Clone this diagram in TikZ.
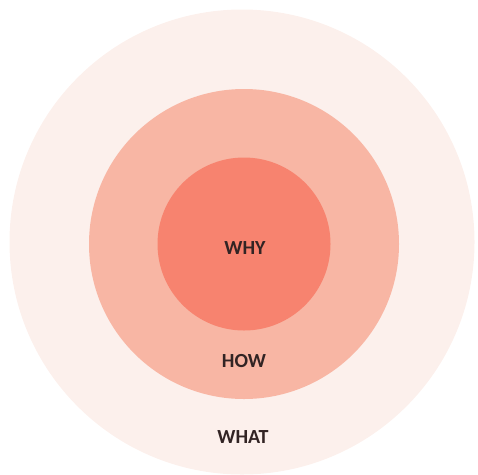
\documentclass[tikz,border=0pt]{standalone}
\usepackage{fontspec}
\setmainfont{Carlito}
\usepackage{xcolor}
\usepackage{tikz}
\usetikzlibrary{positioning}
\definecolor{whatpink}{RGB}{252,240,236}
\definecolor{howpink}{RGB}{248,182,164}
\definecolor{whysalmon}{RGB}{247,131,111}
\definecolor{lbltext}{RGB}{50,36,36}
\tikzset{
    ring/.style={circle, draw=none, inner sep=0pt},
    ringlbl/.style={font=\fontsize{20}{24}\selectfont\bfseries, text=lbltext, inner sep=1pt},
}
\begin{document}
\begin{tikzpicture}[x=1pt, y=-1pt]
        \useasboundingbox (0,0) rectangle (478,474);
        \node[ring, fill=whatpink, minimum size=465pt] (what) at (242,242) {};
        \node[ring, fill=howpink, minimum size=310pt] (how) at (244,244) {};
        \node[ring, fill=whysalmon, minimum size=173pt] (why) at (244,244) {};
        \node[ringlbl] (whylbl) at (245,248) {WHY};
        \node[ringlbl] (howlbl) at (244,361) {HOW};
        \node[ringlbl] (whatlbl) at (243,437) {WHAT};
    \end{tikzpicture}
\end{document}
